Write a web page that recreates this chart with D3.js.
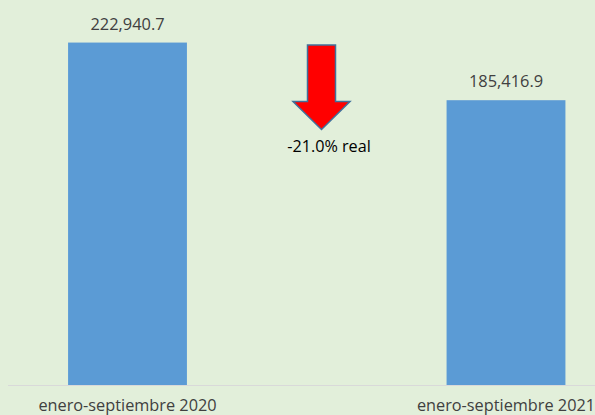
<!DOCTYPE html>
<html>
<head>
<meta charset="utf-8">
<script src="https://cdn.jsdelivr.net/npm/d3@7"></script>
<style>
  body { margin: 0; background: #E2EFDA; }
  svg { display: block; }
  text { font-family: "Open Sans", sans-serif; }
</style>
</head>
<body>
<div class="view"></div>
<script>
var width = 595;
var height = 415;

var categories = ["enero-septiembre 2020", "enero-septiembre 2021"];
var values = [222940.7, 185416.9];
var changeLabel = "-21.0% real";

var svg = d3.select(".view")
    .append("svg")
    .attr("width", width)
    .attr("height", height);

svg.append("rect")
    .attr("width", width)
    .attr("height", height)
    .attr("fill", "#E2EFDA");

var x = d3.scaleBand()
    .domain(categories)
    .range([-61.75, 695.25])
    .paddingInner(0.686)
    .paddingOuter(0.343);

var y = d3.scaleLinear()
    .domain([0, 250000])
    .range([385, 1]);

var fmt = d3.format(",.1f");

// baseline
svg.append("line")
    .attr("x1", 8)
    .attr("x2", width)
    .attr("y1", y(0) + 0.5)
    .attr("y2", y(0) + 0.5)
    .attr("stroke", "#D9D9D9")
    .attr("stroke-width", 1);

svg.append("g")
    .selectAll("rect")
    .data(values)
    .enter().append("rect")
    .attr("x", function (d, i) { return x(categories[i]); })
    .attr("width", x.bandwidth())
    .attr("y", function (d) { return y(d); })
    .attr("height", function (d) { return y(0) - y(d); })
    .attr("fill", "#5B9BD5");

svg.append("g")
    .selectAll("text")
    .data(values)
    .enter().append("text")
    .attr("x", function (d, i) { return x(categories[i]) + x.bandwidth() / 2; })
    .attr("y", function (d) { return y(d) - 13; })
    .attr("text-anchor", "middle")
    .attr("font-size", 16.4)
    .attr("fill", "#404040")
    .text(function (d) { return fmt(d); });

svg.append("g")
    .selectAll("text")
    .data(categories)
    .enter().append("text")
    .attr("x", function (d) { return x(d) + x.bandwidth() / 2; })
    .attr("y", 411)
    .attr("text-anchor", "middle")
    .attr("font-size", 16.3)
    .attr("fill", "#404040")
    .text(function (d) { return d; });

// down arrow between the bars
var ax = 321.5, aTop = 45, aNeck = 101.5, aTip = 129.5;
var shaftW = 28, headW = 57;
svg.append("path")
    .attr("d", "M" + (ax - shaftW / 2) + "," + aTop +
        "H" + (ax + shaftW / 2) +
        "V" + aNeck +
        "H" + (ax + headW / 2) +
        "L" + ax + "," + aTip +
        "L" + (ax - headW / 2) + "," + aNeck +
        "H" + (ax - shaftW / 2) + "Z")
    .attr("fill", "#FF0000")
    .attr("stroke", "#41719C")
    .attr("stroke-width", 1.5)
    .attr("stroke-linejoin", "miter");

svg.append("text")
    .attr("x", 329)
    .attr("y", 151.5)
    .attr("text-anchor", "middle")
    .attr("font-size", 16.2)
    .attr("fill", "#000")
    .text(changeLabel);
</script>
</body>
</html>
